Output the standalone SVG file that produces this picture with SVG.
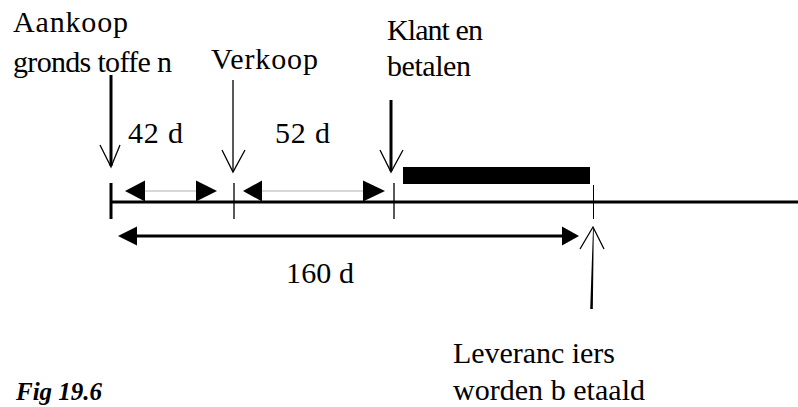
<svg xmlns="http://www.w3.org/2000/svg" width="798" height="407" viewBox="0 0 798 407">
<style>
text{font-family:"Liberation Serif","Times New Roman",serif;font-size:30px;fill:#000}
.fig{font-weight:bold;font-style:italic;font-size:25px}
.thick{stroke:#000;stroke-width:3;fill:none}
.thin{stroke:#000;stroke-width:1.3;fill:none}
.dim{stroke:#b0b0b0;stroke-width:1;fill:none}
.head{fill:#000;stroke:none}
</style>
<rect width="798" height="407" fill="#fff"/>
<g id="timeline">
<line class="thick" x1="111" y1="202" x2="798" y2="202"/>
<line class="thick" x1="111" y1="183" x2="111" y2="219"/>
<line class="thin" x1="234" y1="183" x2="234" y2="219"/>
<line class="thin" x1="394" y1="183" x2="394" y2="219"/>
<line stroke="#000" stroke-width="1" x1="593.5" y1="185" x2="593.5" y2="219"/>
<rect x="403" y="167" width="187" height="17" fill="#000"/>
</g>
<g id="aankoop">
<text x="13" y="32" textLength="115" lengthAdjust="spacing">Aankoop</text>
<text x="13" y="72" textLength="159" lengthAdjust="spacing">gronds toffe n</text>
</g>
<g id="verkoop">
<text x="211" y="69" textLength="107" lengthAdjust="spacing">Verkoop</text>
</g>
<g id="klanten">
<text x="387" y="40" textLength="96" lengthAdjust="spacing">Klant en</text>
<text x="387" y="76" textLength="84" lengthAdjust="spacing">betalen</text>
</g>
<g id="leveranciers">
<text x="453" y="363" textLength="162" lengthAdjust="spacing">Leveranc iers</text>
<text x="453" y="400" textLength="192" lengthAdjust="spacing">worden b etaald</text>
</g>
<g id="labels">
<text x="128" y="143" textLength="55" lengthAdjust="spacing">42 d</text>
<text x="275" y="143" textLength="55" lengthAdjust="spacing">52 d</text>
<text x="286" y="283" textLength="68" lengthAdjust="spacing">160 d</text>
<text class="fig" x="16" y="400">Fig 19.6</text>
</g>
<g id="connectors">
<line class="thick" x1="111" y1="75" x2="111" y2="166"/>
<polyline class="thin" points="100,145 111,167 120,145"/>
<line class="thin" x1="233" y1="80" x2="233" y2="171"/>
<polyline class="thin" points="222,150 233,172 245,150"/>
<line class="thick" x1="391" y1="100" x2="391" y2="171"/>
<polyline class="thin" points="380,150 391,172 403,150"/>
<polygon class="head" points="593,229 593.8,229 592.8,309 590.2,309"/>
<polyline class="thin" points="580,249 593,227 604,249"/>
<line class="dim" x1="145" y1="191" x2="196" y2="191"/>
<polygon class="head" points="125,191 145,180.5 145,201.5"/>
<polygon class="head" points="217,191 196,180.5 196,201.5"/>
<line class="dim" x1="262" y1="191" x2="363" y2="191"/>
<polygon class="head" points="243,191 262,180.5 262,201.5"/>
<polygon class="head" points="385,191 363,180.5 363,201.5"/>
<line class="thick" x1="136" y1="236" x2="563" y2="236"/>
<polygon class="head" points="118,236 137,226.5 137,245.5"/>
<polygon class="head" points="579,236 562,226.5 562,245.5"/>
</g>
</svg>
